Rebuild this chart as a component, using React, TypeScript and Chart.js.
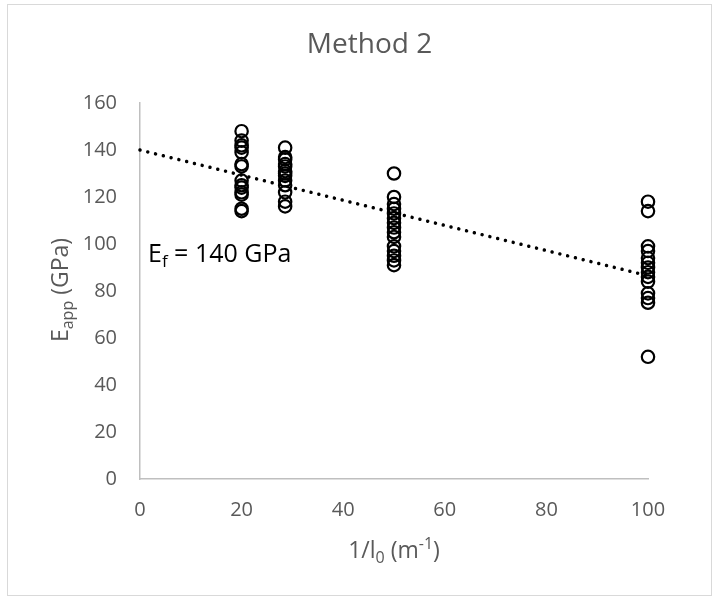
import React, { useEffect, useRef } from "react";
import { Chart, registerables } from "chart.js";
Chart.register(...registerables);

// Inverse gauge lengths (1/l0, m^-1)
const xLevels = [20, 28.57, 50, 100];
// Apparent modulus values (GPa) read at each level
const eappAt20 = [148, 144, 142, 141, 139, 134, 133, 127, 125, 124, 122, 121, 115, 114];
const eappAt28 = [141, 137, 136, 134, 133, 131, 130, 129, 127, 125, 122, 118, 116];
const eappAt50 = [130, 120, 117, 115, 113, 111, 109, 107, 105, 103, 99, 97, 95, 93, 91];
const eappAt100 = [118, 114, 99, 97, 94, 92, 90, 88, 86, 84, 79, 77, 75, 52];
// Linear trendline endpoints
const trendX = [0, 100];
const trendY = [140, 86.5];

const FONT = "'Open Sans', 'Liberation Sans', sans-serif";
const GRAY = "#595959";

type Seg = { t: string; size: number; dy: number };

function drawRich(ctx: CanvasRenderingContext2D, segs: Seg[], x: number, y: number, align: "center" | "left", color: string) {
  let w = 0;
  for (const s of segs) {
    ctx.font = `${s.size}px ${FONT}`;
    w += ctx.measureText(s.t).width;
  }
  let cx = align === "center" ? x - w / 2 : x;
  ctx.fillStyle = color;
  ctx.textAlign = "left";
  ctx.textBaseline = "alphabetic";
  for (const s of segs) {
    ctx.font = `${s.size}px ${FONT}`;
    ctx.fillText(s.t, cx, y + s.dy);
    cx += ctx.measureText(s.t).width;
  }
}

const decorPlugin = {
  id: "decor",
  afterDraw(chart: any) {
    const ctx: CanvasRenderingContext2D = chart.ctx;
    ctx.save();
    // outer frame
    ctx.strokeStyle = "#d9d9d9";
    ctx.lineWidth = 1;
    ctx.strokeRect(7.5, 4.5, 704, 591);
    // title
    drawRich(ctx, [{ t: "Method 2", size: 28, dy: 0 }], 369.5, 53, "center", GRAY);
    // annotation
    drawRich(
      ctx,
      [
        { t: "E", size: 25, dy: 0 },
        { t: "f", size: 17, dy: 5 },
        { t: " = 140 GPa", size: 25, dy: 0 },
      ],
      148,
      262,
      "left",
      "#000000"
    );
    // x axis title
    drawRich(
      ctx,
      [
        { t: "1/l", size: 23, dy: 0 },
        { t: "0", size: 16, dy: 5 },
        { t: " (m", size: 23, dy: 0 },
        { t: "-1", size: 16, dy: -9 },
        { t: ")", size: 23, dy: 0 },
      ],
      394,
      558,
      "center",
      GRAY
    );
    // y axis title
    ctx.save();
    ctx.translate(68, 290);
    ctx.rotate(-Math.PI / 2);
    drawRich(
      ctx,
      [
        { t: "E", size: 23, dy: 0 },
        { t: "app", size: 16, dy: 5 },
        { t: " (GPa)", size: 23, dy: 0 },
      ],
      0,
      0,
      "center",
      GRAY
    );
    ctx.restore();
    ctx.restore();
  },
};

export default function App() {
  const ref = useRef<HTMLCanvasElement>(null);
  useEffect(() => {
    const groups = [eappAt20, eappAt28, eappAt50, eappAt100];
    const points: { x: number; y: number }[] = [];
    groups.forEach((vals, i) => vals.forEach((v) => points.push({ x: xLevels[i], y: v })));
    const trend = trendX.map((x, i) => ({ x, y: trendY[i] }));

    const chart = new Chart(ref.current!, {
      type: "scatter",
      data: {
        datasets: [
          {
            data: trend,
            showLine: true,
            borderColor: "#000000",
            borderWidth: 3.5,
            borderDash: [0.01, 8],
            borderCapStyle: "round",
            pointRadius: 0,
            order: 0,
            clip: false,
          } as any,
          {
            data: points,
            pointRadius: 6.2,
            pointBorderWidth: 2.2,
            borderColor: "#000000",
            backgroundColor: "rgba(0,0,0,0)",
            pointStyle: "circle",
            order: 1,
            clip: false,
          } as any,
        ],
      },
      options: {
        animation: false,
        responsive: false,
        layout: { padding: { top: 103, right: 71, left: 0, bottom: 0 } },
        plugins: {
          legend: { display: false },
          tooltip: { enabled: false },
          title: { display: false },
        },
        scales: {
          x: {
            type: "linear",
            min: 0,
            max: 100,
            ticks: { stepSize: 20, color: GRAY, font: { family: FONT, size: 20 }, padding: 19 },
            grid: { display: false, drawTicks: false },
            border: { display: true, color: "#bfbfbf", width: 1.5 },
            afterFit: (s: any) => {
              s.height = 118;
            },
          },
          y: {
            type: "linear",
            min: 0,
            max: 160,
            ticks: { stepSize: 20, color: GRAY, font: { family: FONT, size: 20 }, padding: 23 },
            grid: { display: false, drawTicks: false },
            border: { display: true, color: "#bfbfbf", width: 1.5 },
            afterFit: (s: any) => {
              s.width = 140;
            },
          },
        },
      },
      plugins: [decorPlugin],
    });
    return () => chart.destroy();
  }, []);
  return (
    <canvas
      ref={ref}
      width={719}
      height={597}
      style={{ position: "absolute", left: 0, top: 0, width: 719, height: 597 }}
    />
  );
}
